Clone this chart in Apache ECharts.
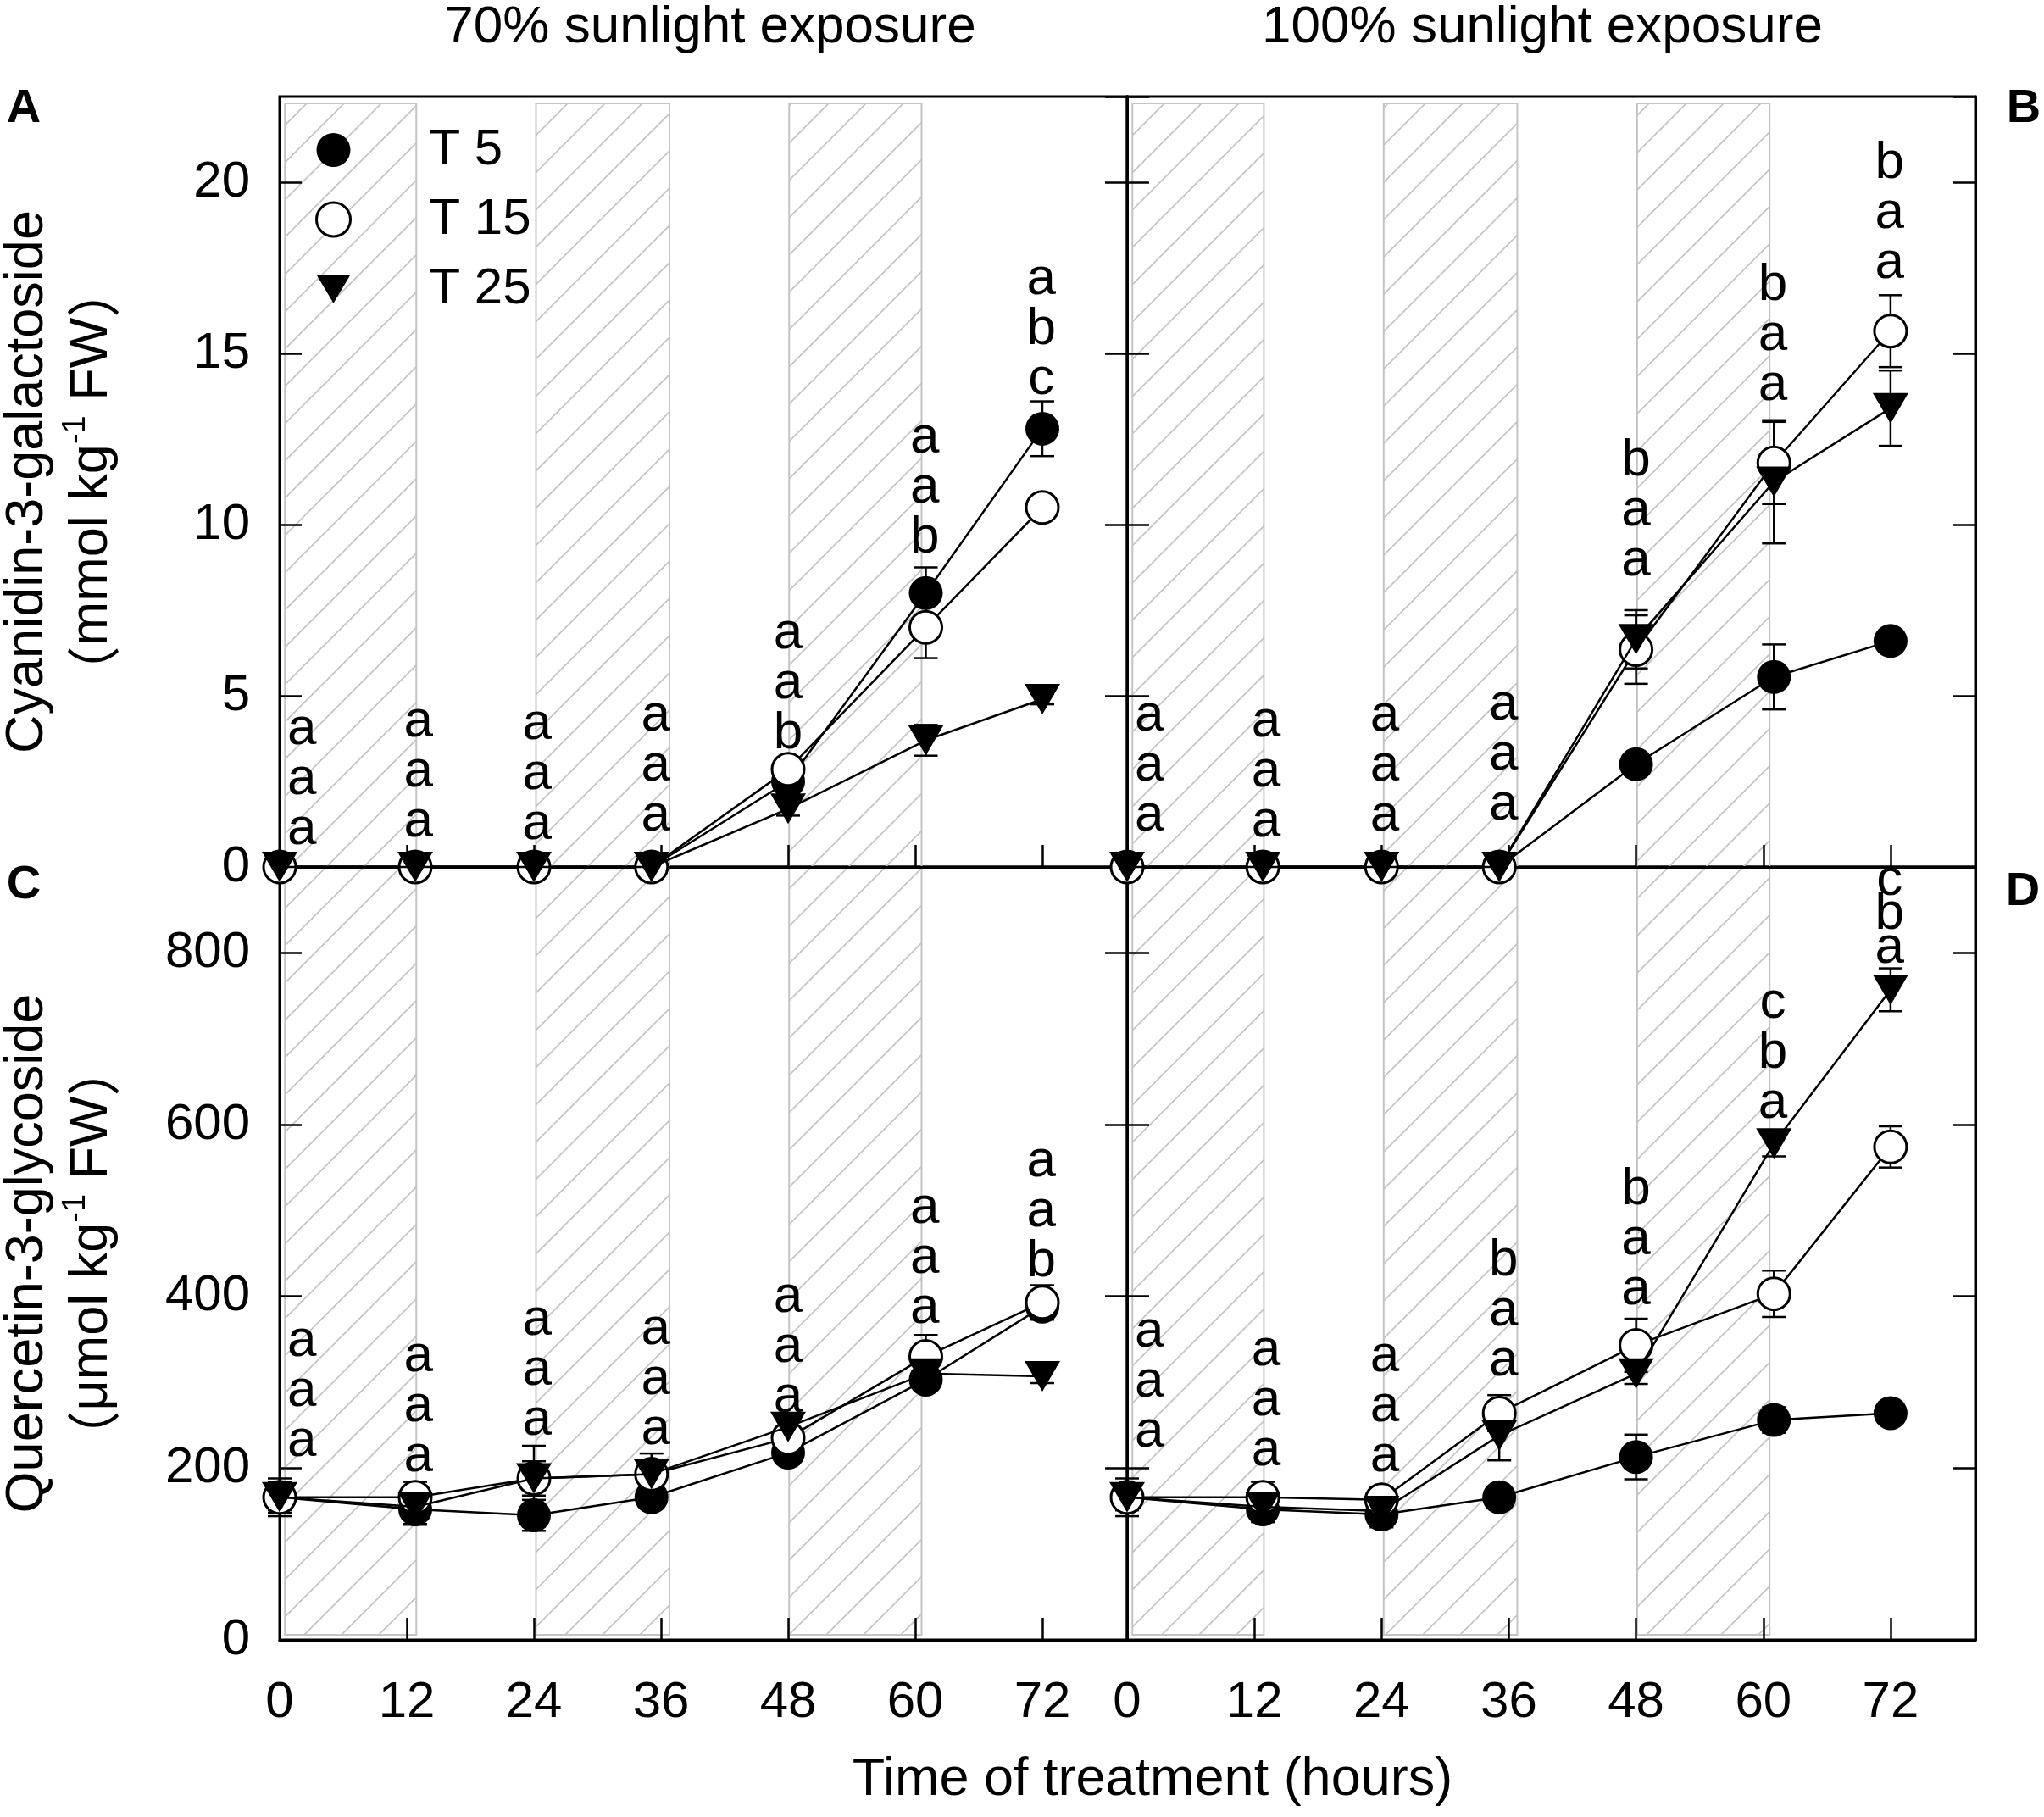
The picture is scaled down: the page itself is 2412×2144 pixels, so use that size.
<!DOCTYPE html>
<html>
<head>
<meta charset="utf-8">
<script src="https://cdn.jsdelivr.net/npm/echarts@6/dist/echarts.min.js"></script>
<style>
html, body { margin: 0; background: #fff; }
#main { width: 2412px; height: 2144px; }
</style>
</head>
<body>
<div id="main"></div>
<script>
var FONT = "'Liberation Sans', Arial, 'Noto Sans CJK SC', sans-serif";
var CJK = "'Noto Sans CJK SC', sans-serif";

// sampling times (h) and the x tick labels
var TIMES = [0, 12.8, 24, 35.1, 48, 61, 72];
var X_TICKS = [0, 12, 24, 36, 48, 60, 72];
// dark periods (hatched)
var NIGHTS = [[0.5, 12.9], [24.2, 36.8], [48.1, 60.6]];
var NAMES = ['T 5', 'T 15', 'T 25'];

// cyanidin-3-galactoside, 70% sunlight
var CY70_T5 = [0, 0, 0, 0, 2.5, 8.0, 12.8];
var CY70_T5_SD = [0, 0, 0, 0, 0.2, 0.75, 0.8];
var CY70_T15 = [0, 0, 0, 0, 2.85, 7.0, 10.5];
var CY70_T15_SD = [0, 0, 0, 0, 0.3, 0.9, 0.2];
var CY70_T25 = [0, 0, 0, 0, 1.7, 3.7, 4.9];
var CY70_T25_SD = [0, 0, 0, 0, 0.2, 0.45, 0.15];
var CY70_LETTERS = ['aaa', 'aaa', 'aaa', 'aaa', 'aab', 'aab', 'abc'];
var CY70_LETTER_Y = [1.08, 1.32, 1.24, 1.49, 3.89, 9.6, 14.24];

// cyanidin-3-galactoside, 100% sunlight
var CY100_T5 = [0, 0, 0, 0, 3.0, 5.55, 6.6];
var CY100_T5_SD = [0, 0, 0, 0, 0.15, 0.95, 0.15];
var CY100_T15 = [0, 0, 0, 0, 6.35, 11.8, 15.65];
var CY100_T15_SD = [0, 0, 0, 0, 1.0, 1.2, 1.05];
var CY100_T25 = [0, 0, 0, 0, 6.65, 11.25, 13.4];
var CY100_T25_SD = [0, 0, 0, 0, 0.85, 1.8, 1.1];
var CY100_LETTERS = ['aaa', 'aaa', 'aaa', 'aaa', 'baa', 'baa', 'baa'];
var CY100_LETTER_Y = [1.49, 1.32, 1.49, 1.82, 8.94, 14.07, 17.63];

// quercetin-3-glycoside, 70% sunlight
var QU70_T5 = [166, 152, 145, 166, 218, 303, 388];
var QU70_T5_SD = [18, 18, 18, 8, 10, 10, 15];
var QU70_T15 = [166, 166, 188, 193, 235, 330, 393];
var QU70_T15_SD = [22, 18, 20, 12, 12, 25, 20];
var QU70_T25 = [166, 155, 188, 193, 248, 310, 307];
var QU70_T25_SD = [15, 20, 38, 24, 15, 10, 8];
var QU70_LETTERS = ['aaa', 'aaa', 'aaa', 'aaa', 'aaa', 'aaa', 'aab'];
var QU70_LETTER_Y = [231, 213, 256, 245, 282, 386, 440];

// quercetin-3-glycoside, 100% sunlight
var QU100_T5 = [166, 152, 146, 166, 213, 256, 264];
var QU100_T5_SD = [15, 15, 15, 5, 26, 15, 8];
var QU100_T15 = [166, 166, 163, 264, 343, 403, 574];
var QU100_T15_SD = [22, 18, 15, 21, 31, 27, 24];
var QU100_T25 = [166, 155, 150, 238, 310, 578, 757];
var QU100_T25_SD = [15, 15, 10, 29, 12, 15, 25];
var QU100_LETTERS = ['aaa', 'aaa', 'aaa', 'baa', 'baa', 'cba', 'cba'];
var QU100_LETTER_Y = [242, 220, 213, 325, 408, 625, 805];

var LETTER_X = [2.1, 13.1, 24.3, 35.5, 48, 60.9, 71.9];
var LETTER_GAP = 59;

var panels = [
    {vals: [CY70_T5, CY70_T15, CY70_T25], sd: [CY70_T5_SD, CY70_T15_SD, CY70_T25_SD],
     letters: CY70_LETTERS, letterY: CY70_LETTER_Y, gaps: null, top: true},
    {vals: [CY100_T5, CY100_T15, CY100_T25], sd: [CY100_T5_SD, CY100_T15_SD, CY100_T25_SD],
     letters: CY100_LETTERS, letterY: CY100_LETTER_Y, gaps: null, top: true},
    {vals: [QU70_T5, QU70_T15, QU70_T25], sd: [QU70_T5_SD, QU70_T15_SD, QU70_T25_SD],
     letters: QU70_LETTERS, letterY: QU70_LETTER_Y, gaps: null, top: false},
    {vals: [QU100_T5, QU100_T15, QU100_T25], sd: [QU100_T5_SD, QU100_T15_SD, QU100_T25_SD],
     letters: QU100_LETTERS, letterY: QU100_LETTER_Y, gaps: [59, 59, 59, 59, 59, 59, 40], top: false}
];

// hatch pattern for the dark periods
var hatch = document.createElement('canvas');
hatch.width = 44;
hatch.height = 44;
var hctx = hatch.getContext('2d');
hctx.strokeStyle = '#c2c2c2';
hctx.lineWidth = 1.6;
hctx.beginPath();
hctx.moveTo(-4, 48); hctx.lineTo(48, -4);
hctx.moveTo(-26, 26); hctx.lineTo(26, -26);
hctx.moveTo(18, 70); hctx.lineTo(70, 18);
hctx.stroke();

var SYMBOLS = [
    {symbol: 'circle', symbolSize: 40, symbolRotate: 0, itemStyle: {color: '#000'}},
    {symbol: 'circle', symbolSize: 38, symbolRotate: 0, itemStyle: {color: '#fff', borderColor: '#000', borderWidth: 3}},
    {symbol: 'triangle', symbolSize: [42, 36], symbolRotate: 180, itemStyle: {color: '#000'}}
];

var GRIDS = [
    {left: 330, top: 114, width: 1000, height: 909},
    {left: 1330, top: 114, width: 1001, height: 909},
    {left: 330, top: 1023, width: 1000, height: 912},
    {left: 1330, top: 1023, width: 1001, height: 912}
];

var AXIS_LINE = {show: true, onZero: false, lineStyle: {color: '#000', width: 3}};
var AXIS_TICK = {show: true, inside: true, length: 26, lineStyle: {color: '#000', width: 2.5}};

function makeX(i) {
    var labels = i >= 2;
    return {
        gridIndex: i, type: 'value', min: 0, max: 80, interval: 12, z: 3,
        axisLine: AXIS_LINE, axisTick: AXIS_TICK, splitLine: {show: false},
        axisLabel: {
            show: labels, margin: 44, interval: 0, showMaxLabel: false,
            fontSize: 60, fontFamily: FONT, color: '#000',
            formatter: function (v) { return X_TICKS.indexOf(v) >= 0 ? String(v) : ''; }
        }
    };
}

function yName(first, unit) {
    return '{a|' + first + '}\n{p|（}{a|' + unit + ' kg}{s|-1}{a| FW}{p|）}';
}

function makeY(i, pos) {
    var top = i < 2;
    var showLabel = pos === 'left' && (i === 0 || i === 2);
    var axis = {
        gridIndex: i, type: 'value', position: pos, min: 0,
        max: top ? 22.5 : 900, interval: top ? 5 : 200, z: 3,
        axisLine: AXIS_LINE, axisTick: AXIS_TICK, splitLine: {show: false},
        axisLabel: {
            show: showLabel, margin: 35, showMaxLabel: false,
            fontSize: 60, fontFamily: FONT, color: '#000'
        }
    };
    if (showLabel) {
        axis.name = top ? yName('Cyanidin-3-galactoside', 'mmol') : yName('Quercetin-3-glycoside', 'μmol');
        axis.nameLocation = 'middle';
        axis.nameRotate = 90;
        axis.nameGap = 183;
        axis.nameTextStyle = {
            rich: {
                a: {fontSize: 63, lineHeight: 76, fontFamily: FONT, color: '#000'},
                p: {fontSize: 63, lineHeight: 76, fontFamily: CJK, color: '#000'},
                s: {fontSize: 38, lineHeight: 44, verticalAlign: 'top', fontFamily: FONT, color: '#000'}
            }
        };
    }
    return axis;
}

var xAxes = [], yAxes = [], series = [];

panels.forEach(function (p, i) {
    xAxes.push(makeX(i));
    yAxes.push(makeY(i, 'left'));
    yAxes.push(makeY(i, 'right'));
    var yi = i * 2;

    // hatched dark periods
    var lo = p.top ? 0 : 6;
    var hi = p.top ? 22.3 : 900;
    series.push({
        type: 'line', xAxisIndex: i, yAxisIndex: yi, data: [], z: 1, silent: true,
        markArea: {
            silent: true,
            itemStyle: {color: {image: hatch, repeat: 'repeat'}, borderColor: '#c4c4c4', borderWidth: 2},
            data: NIGHTS.map(function (n) {
                return [{xAxis: n[0], yAxis: lo}, {xAxis: n[1], yAxis: hi}];
            })
        }
    });

    // error bars
    p.vals.forEach(function (vals, s) {
        series.push({
            type: 'custom', xAxisIndex: i, yAxisIndex: yi, z: 4, silent: true,
            data: TIMES.map(function (t, k) { return [t, vals[k], p.sd[s][k]]; }),
            encode: {x: 0, y: 1},
            renderItem: function (params, api) {
                var x = api.value(0), y = api.value(1), e = api.value(2);
                if (!e) return {type: 'group', children: []};
                var a = api.coord([x, y + e]);
                var b = api.coord([x, y - e]);
                var w = 14;
                var st = {stroke: '#000', lineWidth: 2.5};
                return {type: 'group', children: [
                    {type: 'line', shape: {x1: a[0], y1: a[1], x2: b[0], y2: b[1]}, style: st},
                    {type: 'line', shape: {x1: a[0] - w, y1: a[1], x2: a[0] + w, y2: a[1]}, style: st},
                    {type: 'line', shape: {x1: b[0] - w, y1: b[1], x2: b[0] + w, y2: b[1]}, style: st}
                ]};
            }
        });
    });

    // lines with markers
    p.vals.forEach(function (vals, s) {
        var sym = SYMBOLS[s];
        series.push({
            type: 'line', name: NAMES[s], xAxisIndex: i, yAxisIndex: yi, z: 5 + s,
            clip: false, animation: false,
            symbol: sym.symbol, symbolSize: sym.symbolSize, symbolRotate: sym.symbolRotate,
            showAllSymbol: true,
            itemStyle: sym.itemStyle,
            lineStyle: {color: '#000', width: 2.5},
            data: TIMES.map(function (t, k) { return [t, vals[k]]; })
        });
    });

    // significance letters
    series.push({
        type: 'custom', xAxisIndex: i, yAxisIndex: yi, z: 9, silent: true,
        data: LETTER_X.map(function (x, k) { return [x, p.letterY[k], k]; }),
        encode: {x: 0, y: 1},
        renderItem: function (params, api) {
            var k = api.value(2);
            var pt = api.coord([api.value(0), api.value(1)]);
            var str = p.letters[k];
            var gap = p.gaps ? p.gaps[k] : LETTER_GAP;
            var kids = [];
            for (var j = 0; j < str.length; j++) {
                kids.push({
                    type: 'text', x: pt[0], y: pt[1] - (str.length - 1 - j) * gap,
                    style: {text: str.charAt(j), fontSize: 62, fontFamily: FONT, fill: '#000',
                            align: 'center', verticalAlign: 'middle'}
                });
            }
            return {type: 'group', children: kids};
        }
    });
});

function label(text, x, y, size, bold) {
    return {
        type: 'text', x: x, y: y, z: 10,
        style: {text: text, fontSize: size, fontWeight: bold ? 'bold' : 'normal', fontFamily: FONT,
                fill: '#000', align: 'center', verticalAlign: 'middle'}
    };
}

var chart = echarts.init(document.getElementById('main'));
chart.setOption({
    animation: false,
    backgroundColor: '#fff',
    grid: GRIDS.map(function (g) {
        return {left: g.left, top: g.top, width: g.width, height: g.height, show: true,
                borderColor: '#000', borderWidth: 3, backgroundColor: 'transparent', z: 0};
    }),
    xAxis: xAxes,
    yAxis: yAxes,
    legend: {
        orient: 'vertical', left: 367, top: 142, itemWidth: 40, itemHeight: 40, itemGap: 22,
        selectedMode: false,
        textStyle: {fontSize: 60, fontFamily: FONT, color: '#000', lineHeight: 40, padding: [0, 0, 0, 88]},
        data: [
            {name: 'T 5', icon: 'circle', itemStyle: {color: '#000'}},
            {name: 'T 15', icon: 'circle', itemStyle: {color: '#fff', borderColor: '#000', borderWidth: 3}},
            {name: 'T 25', icon: 'path://M0,0L24,0L12,20Z', itemStyle: {color: '#000'}}
        ]
    },
    graphic: [
        label('70% sunlight exposure', 838, 33, 62),
        label('100% sunlight exposure', 1820, 33, 62),
        label('Time of treatment (hours)', 1360, 2101, 63),
        label('A', 28, 129, 56, true),
        label('B', 2388, 129, 56, true),
        label('C', 28, 1045, 56, true),
        label('D', 2387, 1053, 56, true)
    ],
    series: series
});
</script>
</body>
</html>
